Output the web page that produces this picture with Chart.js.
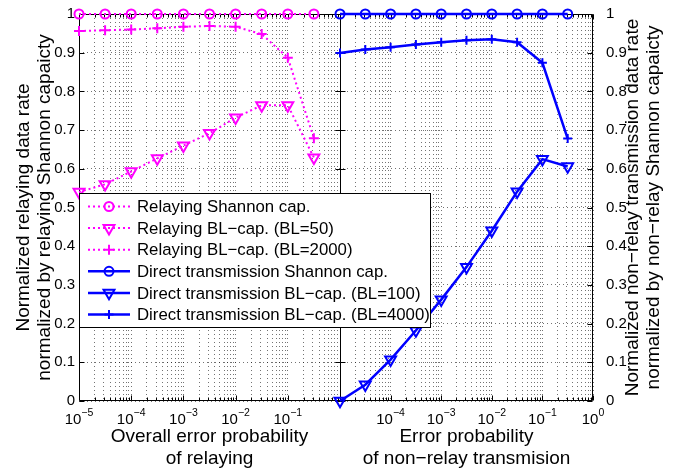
<!DOCTYPE html>
<html>
<head>
<meta charset="utf-8">
<script src="https://cdn.jsdelivr.net/npm/chart.js@4.4.1/dist/chart.umd.min.js"></script>
<style>
  html, body { margin: 0; padding: 0; background: #fff; }
  #wrap { position: relative; width: 677px; height: 475px; }
</style>
</head>
<body>
<div id="wrap"><canvas id="capChart" width="677" height="475"></canvas></div>
<script>
const FONT = "'Liberation Sans', Arial, Helvetica, sans-serif";
const MAGENTA = '#ff00ff';
const BLUE = '#0000ff';
const GRID = 'rgba(0,0,0,0.55)';

// error probability, same points in both panels
const errProb = [1e-5, 3.16e-5, 1e-4, 3.16e-4, 1e-3, 3.16e-3, 1e-2, 3.16e-2, 1e-1, 3.16e-1];

// left panel: relaying
const relayShannon = [1, 1, 1, 1, 1, 1, 1, 1, 1, 1];
const relayBL50 = [0.54, 0.56, 0.593, 0.627, 0.66, 0.692, 0.732, 0.764, 0.764, 0.629];
const relayBL2000 = [0.956, 0.958, 0.960, 0.963, 0.967, 0.969, 0.967, 0.948, 0.887, 0.679];

// right panel: direct transmission
const directShannon = [1, 1, 1, 1, 1, 1, 1, 1, 1, 1];
const directBL100 = [0.0, 0.042, 0.107, 0.182, 0.262, 0.346, 0.44, 0.541, 0.625, 0.606];
const directBL4000 = [0.899, 0.908, 0.914, 0.921, 0.927, 0.932, 0.935, 0.927, 0.874, 0.678];

// ticks
const yTickValues = [0, 0.1, 0.2, 0.3, 0.4, 0.5, 0.6, 0.7, 0.8, 0.9, 1];
const yTickLabels = ['0', '0.1', '0.2', '0.3', '0.4', '0.5', '0.6', '0.7', '0.8', '0.9', '1'];
const leftTickExps = [-5, -4, -3, -2, -1];
const rightTickExps = [-4, -3, -2, -1, 0];
const gridDecades = [-5, -4, -3, -2, -1];
const gridMultipliers = [1, 2, 3, 4, 5, 6, 7, 8, 9];

function logGridTicks(scale) {
    const ticks = [];
    gridDecades.forEach(d => {
        gridMultipliers.forEach(m => {
            ticks.push({ value: m * Math.pow(10, d), major: m === 1 });
        });
    });
    ticks.push({ value: 1, major: true });
    scale.ticks = ticks;
}

function toPoints(ys) {
    return errProb.map((x, i) => ({ x: x, y: ys[i] }));
}

function series(label, ys, side, color, style) {
    const relay = side === 'left';
    const ds = {
        label: label,
        data: toPoints(ys),
        xAxisID: relay ? 'x' : 'x2',
        yAxisID: 'y',
        borderColor: color,
        backgroundColor: 'rgba(0,0,0,0)',
        borderWidth: relay ? 2 : 2.5,
        borderDash: relay ? [2, 3] : [],
        pointBorderColor: color,
        pointBackgroundColor: 'rgba(0,0,0,0)',
        pointBorderWidth: 2,
        pointStyle: style,
        pointRotation: 0,
        pointRadius: 4.5,
        clip: false,
        tension: 0
    };
    if (style === 'triangle') {
        ds.pointRotation = 180;
        ds.pointRadius = 6.3;
    }
    if (style === 'cross') {
        ds.pointRadius = relay ? 5 : 4.5;
    }
    return ds;
}

// 画框、内侧刻度
const framePlugin = {
    id: 'frame',
    beforeDatasetsDraw(chart) {
        const ctx = chart.ctx;
        const a = chart.chartArea;
        const mid = Math.round(chart.scales.x2.left) + 0.5;
        const L = Math.round(a.left) + 0.5, R = Math.round(a.right) - 0.5;
        const T = Math.round(a.top) + 0.5, B = Math.round(a.bottom) - 0.5;
        ctx.save();
        ctx.strokeStyle = '#000';
        ctx.lineWidth = 1;
        ctx.beginPath();
        ['x', 'x2'].forEach(id => {
            const s = chart.scales[id];
            s.ticks.forEach(t => {
                const px = Math.round(s.getPixelForValue(t.value)) + 0.5;
                const len = t.major ? 5 : 3;
                ctx.moveTo(px, B); ctx.lineTo(px, B - len);
                ctx.moveTo(px, T); ctx.lineTo(px, T + len);
            });
        });
        yTickValues.forEach(v => {
            const py = Math.round(chart.scales.y.getPixelForValue(v)) + 0.5;
            ctx.moveTo(L, py); ctx.lineTo(L + 5, py);
            ctx.moveTo(mid - 5, py); ctx.lineTo(mid + 5, py);
            ctx.moveTo(R, py); ctx.lineTo(R - 5, py);
        });
        ctx.stroke();
        ctx.beginPath();
        ctx.rect(L, T, R - L, B - T);
        ctx.moveTo(mid, T); ctx.lineTo(mid, B);
        ctx.stroke();
        ctx.restore();
    }
};

// 10^n 刻度标签、右侧纵轴标题、图例
const decorPlugin = {
    id: 'decor',
    afterDraw(chart) {
        const ctx = chart.ctx;
        ctx.save();
        ctx.fillStyle = '#000';
        ctx.textBaseline = 'alphabetic';
        ctx.textAlign = 'left';
        const drawPow = (scale, exps) => {
            exps.forEach(e => {
                const px = scale.getPixelForValue(Math.pow(10, e));
                const sup = e < 0 ? '\u2212' + Math.abs(e) : String(e);
                ctx.font = '15px ' + FONT;
                const wBase = ctx.measureText('10').width;
                ctx.font = '10.5px ' + FONT;
                const wSup = ctx.measureText(sup).width;
                const x0 = px - (wBase + wSup) / 2;
                ctx.font = '15px ' + FONT;
                ctx.fillText('10', x0, 424);
                ctx.font = '10.5px ' + FONT;
                ctx.fillText(sup, x0 + wBase, 416);
            });
        };
        drawPow(chart.scales.x, leftTickExps);
        drawPow(chart.scales.x2, rightTickExps);

        // 右侧纵轴标题（自下而上）
        const cy = (chart.chartArea.top + chart.chartArea.bottom) / 2;
        ctx.font = '19px ' + FONT;
        ctx.textAlign = 'center';
        ctx.textBaseline = 'middle';
        [['Normalized non\u2212relay transmission data rate', 633], ['normalized by non\u2212relay Shannon capaicty', 654]].forEach(([t, x]) => {
            ctx.save();
            ctx.translate(x, cy);
            ctx.rotate(-Math.PI / 2);
            ctx.fillText(t, 0, 0);
            ctx.restore();
        });

        // 图例
        ctx.fillStyle = '#fff';
        ctx.fillRect(79.5, 193.5, 351, 134);
        ctx.strokeStyle = '#000';
        ctx.lineWidth = 1;
        ctx.strokeRect(79.5, 193.5, 351, 134);
        chart.data.datasets.forEach((ds, i) => {
            const y = 206.5 + i * 21.6;
            ctx.save();
            ctx.strokeStyle = ds.borderColor;
            ctx.lineWidth = ds.borderWidth;
            ctx.setLineDash(ds.borderDash);
            ctx.beginPath();
            ctx.moveTo(88, y);
            ctx.lineTo(130, y);
            ctx.stroke();
            ctx.setLineDash([]);
            ctx.strokeStyle = ds.pointBorderColor;
            ctx.fillStyle = 'rgba(0,0,0,0)';
            ctx.lineWidth = ds.pointBorderWidth;
            Chart.helpers.drawPoint(ctx, {
                pointStyle: ds.pointStyle,
                rotation: ds.pointRotation,
                radius: ds.pointRadius,
                borderWidth: ds.pointBorderWidth
            }, 109, y);
            ctx.restore();
            ctx.fillStyle = '#000';
            ctx.font = '16.8px ' + FONT;
            ctx.textAlign = 'left';
            ctx.textBaseline = 'middle';
            ctx.fillText(ds.label, 137, y + 1);
        });
        ctx.restore();
    }
};

const gridOpts = { color: GRID, lineWidth: 1, drawTicks: false };
const gridBorder = { display: false, dash: [1, 3] };

new Chart(document.getElementById('capChart'), {
    type: 'line',
    data: {
        datasets: [
            series('Relaying Shannon cap.', relayShannon, 'left', MAGENTA, 'circle'),
            series('Relaying BL\u2212cap. (BL=50)', relayBL50, 'left', MAGENTA, 'triangle'),
            series('Relaying BL\u2212cap. (BL=2000)', relayBL2000, 'left', MAGENTA, 'cross'),
            series('Direct transmission Shannon cap.', directShannon, 'right', BLUE, 'circle'),
            series('Direct transmission BL\u2212cap. (BL=100)', directBL100, 'right', BLUE, 'triangle'),
            series('Direct transmission BL\u2212cap. (BL=4000)', directBL4000, 'right', BLUE, 'cross')
        ]
    },
    options: {
        responsive: false,
        animation: false,
        events: [],
        layout: { padding: { top: 6, left: 0, right: 0, bottom: 0 } },
        plugins: {
            legend: { display: false },
            tooltip: { enabled: false }
        },
        scales: {
            x: {
                type: 'logarithmic',
                position: 'bottom',
                stack: 'bottomAxes',
                stackWeight: 261,
                min: 1e-5,
                max: 1,
                afterBuildTicks: logGridTicks,
                afterFit: s => { s.height = 74; },
                ticks: { display: false },
                grid: gridOpts,
                border: gridBorder,
                title: {
                    display: true,
                    text: ['Overall error probability', 'of relaying'],
                    color: '#000',
                    font: { family: FONT, size: 19, lineHeight: 1.16 },
                    padding: { top: 0, bottom: 5 }
                }
            },
            x2: {
                type: 'logarithmic',
                position: 'bottom',
                stack: 'bottomAxes',
                stackWeight: 253,
                min: 1e-5,
                max: 1,
                afterBuildTicks: logGridTicks,
                afterFit: s => { s.height = 74; },
                ticks: { display: false },
                grid: gridOpts,
                border: gridBorder,
                title: {
                    display: true,
                    text: ['Error probability', 'of non\u2212relay transmision'],
                    color: '#000',
                    font: { family: FONT, size: 19, lineHeight: 1.16 },
                    padding: { top: 0, bottom: 5 }
                }
            },
            y: {
                type: 'linear',
                position: 'left',
                min: 0,
                max: 1,
                afterBuildTicks: s => { s.ticks = yTickValues.map(v => ({ value: v })); },
                afterFit: s => { s.width = 79; },
                ticks: {
                    color: '#000',
                    font: { family: FONT, size: 15 },
                    padding: 4,
                    callback: (v, i) => yTickLabels[i]
                },
                grid: gridOpts,
                border: gridBorder,
                title: {
                    display: true,
                    text: ['Normalized relaying data rate', 'normalized by relaying Shannon capaicty'],
                    color: '#000',
                    font: { family: FONT, size: 19, lineHeight: 1.1 },
                    padding: { top: 13, bottom: 0 }
                }
            },
            y2: {
                type: 'linear',
                position: 'right',
                min: 0,
                max: 1,
                afterBuildTicks: s => { s.ticks = yTickValues.map(v => ({ value: v })); },
                afterFit: s => { s.width = 84; },
                ticks: {
                    color: '#000',
                    font: { family: FONT, size: 15 },
                    padding: 5,
                    callback: (v, i) => yTickLabels[i]
                },
                grid: { display: false },
                border: { display: false }
            }
        }
    },
    plugins: [framePlugin, decorPlugin]
});
</script>
</body>
</html>
